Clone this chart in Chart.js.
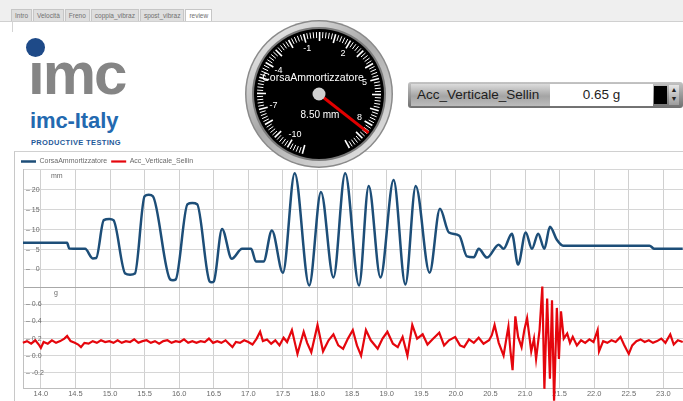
<!DOCTYPE html>
<html>
<head>
<meta charset="utf-8">
<script src="https://cdn.jsdelivr.net/npm/chart.js@4.4.1/dist/chart.umd.min.js"></script>
<style>
  body { margin: 0; width: 683px; height: 401px; overflow: hidden; background: #fff; position: relative; font-family: "Liberation Sans", Arial, sans-serif; }
  #topbar { position: absolute; left: 0; top: 0; width: 683px; height: 21px; background: #efefef; border-bottom: 1px solid #d0d0d0; }
  #tabs { position: absolute; left: 11px; top: 9px; white-space: nowrap; font-size: 0; }
  #tabs span { display: inline-block; height: 11px; line-height: 11px; font-size: 6.5px; color: #707070; padding: 0 3px; margin-right: 1px; border: 1px solid #c6c6c6; border-bottom: none; background: #dedede; }
  #tabs span.on { background: #fff; }
  #sideline { position: absolute; left: 12px; top: 22px; width: 1px; height: 10px; background: #d4d4d4; }
  #dot { position: absolute; left: 26px; top: 38px; width: 19px; height: 19px; border-radius: 50%; background: #1e4a88; }
  #imc { position: absolute; left: 28px; top: 44px; height: 60px; line-height: 60px; font-size: 60px; font-weight: bold; color: #858585; letter-spacing: -2px; }
  #italy { position: absolute; left: 30px; top: 108px; font-size: 22px; line-height: 26px; font-weight: bold; color: #2369b0; letter-spacing: -0.1px; }
  #ptest { position: absolute; left: 31px; top: 138px; font-size: 7.5px; line-height: 9px; font-weight: bold; color: #1f5a9a; letter-spacing: 0.35px; }
  #frame { position: absolute; left: 14px; top: 151px; width: 669px; height: 250px; border-left: 1px solid #c8c8c8; border-top: 1px solid #d0d0d0; }
  #chartBox { position: absolute; left: 0; top: 150px; width: 683px; height: 251px; }
  #gauge { position: absolute; left: 239px; top: 14px; z-index: 3; }
  #disp { position: absolute; left: 408px; top: 82px; width: 271px; height: 22px; padding: 2px; border-radius: 3px; background: linear-gradient(#c4c4c4, #6f6f6f); z-index: 2; }
  #dispLabel { position: absolute; left: 3px; top: 2px; width: 139px; height: 22px; line-height: 22px; font-size: 13.5px; color: #1e1e1e; padding-left: 6px; box-sizing: border-box; background: linear-gradient(#dcdcdc, #a4a4a4 55%, #bcbcbc); }
  #dispValue { position: absolute; left: 142px; top: 2px; width: 103px; height: 22px; line-height: 22px; font-size: 13.5px; color: #1e1e1e; text-align: center; background: #fff; }
  #dispBlack { position: absolute; left: 246px; top: 4px; width: 13px; height: 18px; background: #000; }
  #dispSpin { position: absolute; left: 261px; top: 3px; width: 10px; height: 20px; font-size: 7px; line-height: 9px; color: #222; text-align: center; background: linear-gradient(#e6e6e6, #9c9c9c); }
</style>
</head>
<body>
<div id="topbar"></div>
<div id="tabs"><span>Intro</span><span>Velocità</span><span>Freno</span><span>coppia_vibraz</span><span>spost_vibraz</span><span class="on">review</span></div>
<div id="sideline"></div>

<div id="dot"></div>
<div id="imc">ımc</div>
<div id="italy">imc-Italy</div>
<div id="ptest">PRODUCTIVE TESTING</div>

<div id="frame"></div>
<div id="chartBox"><canvas id="review"></canvas></div>

<canvas id="gauge" width="160" height="160"></canvas>

<div id="disp">
  <div id="dispLabel">Acc_Verticale_Sellin</div>
  <div id="dispValue">0.65 g</div>
  <div id="dispBlack"></div>
  <div id="dispSpin">▲<br>▼</div>
</div>

<script>
// CorsaAmmortizzatore (mm)
const strokeTime = [13.74, 14.38, 14.41, 14.64, 14.75, 14.80, 14.91, 14.99, 15.05, 15.22,
  15.29, 15.36, 15.50, 15.56, 15.62, 15.87, 15.91, 15.95, 16.12, 16.19,
  16.26, 16.44, 16.47, 16.50, 16.62, 16.76, 16.91, 17.04, 17.11, 17.22,
  17.34, 17.50, 17.67, 17.88, 18.05, 18.23, 18.40, 18.60, 18.74, 18.91,
  19.10, 19.27, 19.42, 19.62, 19.77, 19.90, 20.05, 20.16, 20.26, 20.33,
  20.45, 20.62, 20.69, 20.81, 20.90, 21.01, 21.10, 21.19, 21.28, 21.36,
  21.46, 21.55, 22.80, 22.87, 23.28];
const strokeValue = [6.7, 6.7, 5.3, 5.2, 2.8, 2.9, 12.4, 12.7, 12.4, -1.0,
  -1.3, -1.0, 18.4, 18.8, 18.4, -2.5, -2.7, -2.5, 16.4, 16.7,
  16.4, -3.0, -3.2, -3.0, 10.2, 2.7, 5.2, 5.2, 2.0, 2.0,
  9.8, -0.8, 24.2, -4.0, 19.5, -2.0, 24.2, -4.0, 21.0, -2.0,
  22.5, -3.75, 21.0, -0.8, 15.25, 9.3, 8.5, 3.3, 3.1, 5.2,
  3.0, 6.25, 5.2, 9.0, 1.25, 9.3, 5.2, 9.0, 5.2, 10.75,
  7.5, 6.0, 6.0, 5.2, 5.2];

// Acc_Verticale_Sellin (g)
const accTime = [13.74, 13.80, 13.86, 13.92, 13.97, 14.00, 14.04, 14.10, 14.16, 14.22,
  14.28, 14.34, 14.38, 14.43, 14.49, 14.54, 14.58, 14.63, 14.69, 14.75,
  14.81, 14.87, 14.93, 14.99, 15.05, 15.11, 15.17, 15.23, 15.29, 15.35,
  15.41, 15.47, 15.53, 15.59, 15.65, 15.71, 15.77, 15.83, 15.89, 15.95,
  16.01, 16.07, 16.13, 16.19, 16.25, 16.31, 16.37, 16.43, 16.49, 16.55,
  16.61, 16.67, 16.72, 16.77, 16.82, 16.88, 16.94, 17.00, 17.06, 17.12,
  17.17, 17.21, 17.27, 17.33, 17.39, 17.45, 17.51, 17.56, 17.63, 17.71,
  17.80, 17.85, 17.91, 18.00, 18.08, 18.16, 18.23, 18.30, 18.37, 18.44,
  18.51, 18.57, 18.63, 18.70, 18.77, 18.87, 18.94, 19.01, 19.09, 19.16,
  19.23, 19.30, 19.37, 19.44, 19.52, 19.59, 19.66, 19.76, 19.83, 19.90,
  19.99, 20.06, 20.12, 20.19, 20.26, 20.33, 20.40, 20.48, 20.52, 20.56,
  20.62, 20.69, 20.73, 20.76, 20.79, 20.82, 20.86, 20.90, 20.95, 20.99,
  21.03, 21.09, 21.13, 21.16, 21.21, 21.25, 21.28, 21.32, 21.36, 21.39,
  21.42, 21.46, 21.49, 21.52, 21.56, 21.61, 21.65, 21.69, 21.75, 21.81,
  21.87, 21.93, 21.99, 22.05, 22.07, 22.13, 22.19, 22.25, 22.31, 22.38,
  22.43, 22.50, 22.55, 22.61, 22.67, 22.73, 22.79, 22.85, 22.91, 22.97,
  23.03, 23.10, 23.15, 23.21, 23.28];
const accValue = [0.15, 0.17, 0.14, 0.18, 0.13, 0.09, 0.16, 0.14, 0.18, 0.15,
  0.17, 0.20, 0.23, 0.17, 0.15, 0.13, 0.10, 0.15, 0.14, 0.17,
  0.15, 0.18, 0.16, 0.17, 0.15, 0.18, 0.15, 0.17, 0.16, 0.19,
  0.15, 0.17, 0.18, 0.15, 0.17, 0.14, 0.17, 0.18, 0.15, 0.17,
  0.16, 0.19, 0.15, 0.17, 0.15, 0.17, 0.16, 0.20, 0.15, 0.17,
  0.15, 0.18, 0.14, 0.10, 0.16, 0.15, 0.18, 0.16, 0.13, 0.20,
  0.28, 0.17, 0.19, 0.14, 0.18, 0.12, 0.21, 0.16, 0.30, 0.02,
  0.28, 0.15, 0.04, 0.36, 0.05, 0.18, 0.25, 0.12, 0.08, 0.20,
  0.30, 0.12, 0.00, 0.30, 0.18, 0.08, 0.20, 0.28, 0.14, 0.10,
  0.22, 0.00, 0.36, 0.20, 0.25, 0.13, 0.19, 0.27, 0.12, 0.18,
  0.22, 0.12, 0.10, 0.19, 0.15, 0.21, 0.14, 0.18, 0.24, 0.36,
  0.15, 0.00, 0.20, 0.34, 0.05, -0.17, 0.46, 0.22, 0.10, 0.30,
  0.44, 0.05, 0.20, -0.04, 0.30, 0.81, -0.39, 0.67, -0.27, 0.65,
  -0.53, 0.56, -0.04, 0.52, 0.20, 0.26, 0.15, 0.22, 0.12, 0.18,
  0.15, 0.19, 0.16, 0.30, 0.05, 0.17, 0.15, 0.18, 0.16, 0.22,
  0.13, 0.02, 0.12, 0.17, 0.19, 0.16, 0.18, 0.15, 0.17, 0.20,
  0.15, 0.25, 0.13, 0.18, 0.16];

const xTicks = [14.0, 14.5, 15.0, 15.5, 16.0, 16.5, 17.0, 17.5, 18.0, 18.5,
  19.0, 19.5, 20.0, 20.5, 21.0, 21.5, 22.0, 22.5, 23.0];
const strokeTicks = [0, 5, 10, 15, 20, 25];
const accTicks = [-0.2, 0, 0.2, 0.4, 0.6, 0.8];

// gauge readout
const gaugeName = "CorsaAmmortizzatore";
const gaugeValue = 8.5;
const gaugeLabels = [-10, -7, -4, -1, 2, 5, 8];

Chart.defaults.font.family = '"Liberation Sans", Arial, sans-serif';
Chart.defaults.color = "#6a6a6a";

const legendShrink = {
  id: "legendShrink",
  beforeLayout(chart) {
    const lg = chart.legend;
    if (lg && !lg._shrunk) {
      const fit = lg.fit;
      lg.fit = function () { fit.call(this); this.height -= 6; };
      lg._shrunk = true;
    }
  }
};

const unitLabels = {
  id: "unitLabels",
  afterDraw(chart) {
    const { ctx, chartArea, scales } = chart;
    ctx.save();
    ctx.font = '7px "Liberation Sans", Arial, sans-serif';
    ctx.fillStyle = "#6a6a6a";
    ctx.textBaseline = "middle";
    ctx.fillText("mm", chartArea.left + 28, scales.y.top + 7);
    ctx.fillText("g", chartArea.left + 31, scales.y2.top + 6);
    ctx.restore();
  }
};

new Chart(document.getElementById("review"), {
  type: "line",
  data: {
    datasets: [
      {
        label: "CorsaAmmortizzatore",
        data: strokeTime.map((t, i) => ({ x: t, y: strokeValue[i] })),
        borderColor: "#1d4e78",
        backgroundColor: "#1d4e78",
        borderWidth: 2.5,
        pointRadius: 0,
        cubicInterpolationMode: "monotone",
        yAxisID: "y"
      },
      {
        label: "Acc_Verticale_Sellin",
        data: accTime.map((t, i) => ({ x: t, y: accValue[i] })),
        borderColor: "#e5060d",
        backgroundColor: "#e5060d",
        borderWidth: 2.2,
        pointRadius: 0,
        tension: 0,
        clip: false,
        yAxisID: "y2"
      }
    ]
  },
  options: {
    responsive: true,
    maintainAspectRatio: false,
    animation: false,
    layout: { padding: { left: 17, top: 4, right: 0, bottom: 2 } },
    plugins: {
      legend: {
        position: "top",
        align: "start",
        labels: {
          usePointStyle: true,
          pointStyle: "line",
          pointStyleWidth: 15,
          padding: 4,
          color: "#6a6a6a",
          font: { size: 7 }
        }
      },
      tooltip: { enabled: false }
    },
    scales: {
      x: {
        type: "linear",
        min: 13.742,
        max: 23.284,
        afterBuildTicks: (s) => { s.ticks = xTicks.map((v) => ({ value: v })); },
        grid: { color: "#d0d0d0", drawTicks: false },
        border: { color: "#bdbdbd" },
        ticks: { padding: 1, maxRotation: 0, autoSkip: false, font: { size: 7.5 }, callback: (v) => v.toFixed(1) }
      },
      y: {
        type: "linear",
        position: "left",
        stack: "panels",
        stackWeight: 119,
        weight: 2,
        min: -4.5,
        max: 25.25,
        afterBuildTicks: (s) => { s.ticks = strokeTicks.map((v) => ({ value: v })); },
        grid: { color: "#d6d6d6", drawTicks: false },
        border: { color: "#c0c0c0" },
        ticks: {
          mirror: true,
          padding: 3,
          autoSkip: false,
          font: { size: 7 },
          callback: (v) => (v === 25 ? "" : "– " + String(v).padStart(2, "\u2007"))
        }
      },
      y2: {
        type: "linear",
        position: "left",
        stack: "panels",
        stackWeight: 101,
        weight: 1,
        min: -0.38,
        max: 0.8,
        afterBuildTicks: (s) => { s.ticks = accTicks.map((v) => ({ value: v })); },
        grid: {
          color: (c) => (c.tick && c.tick.value === 0.8 ? "#a8a8a8" : "#d6d6d6"),
          drawTicks: false
        },
        border: { color: "#c0c0c0" },
        ticks: {
          mirror: true,
          padding: 3,
          autoSkip: false,
          font: { size: 7 },
          callback: (v) => (v === 0.8 ? "" : "– " + v.toFixed(1))
        }
      }
    }
  },
  plugins: [legendShrink, unitLabels]
});

// round analogue gauge above the chart
function drawGauge() {
  const g = document.getElementById("gauge").getContext("2d");
  const cx = 80, cy = 80;
  const ang = (v) => ((120.6 + (v + 10) * 15) * Math.PI) / 180;

  let ring = g.createLinearGradient(20, 6, 140, 154);
  ring.addColorStop(0, "#f4f4f4");
  ring.addColorStop(0.45, "#a9a9a9");
  ring.addColorStop(1, "#e9e9e9");
  g.beginPath(); g.arc(cx, cy, 74, 0, Math.PI * 2); g.fillStyle = "#8a8a8a"; g.fill();
  g.beginPath(); g.arc(cx, cy, 72.5, 0, Math.PI * 2); g.fillStyle = ring; g.fill();
  g.beginPath(); g.arc(cx, cy, 67, 0, Math.PI * 2); g.fillStyle = "#7a7a7a"; g.fill();
  g.beginPath(); g.arc(cx, cy, 65, 0, Math.PI * 2); g.fillStyle = "#000"; g.fill();

  g.strokeStyle = "#fff";
  for (let k = -55; k <= 50; k++) {
    const v = k / 5;
    const a = ang(v);
    const major = k % 5 === 0;
    const r0 = major ? 53 : 56, r1 = 62;
    g.lineWidth = major ? 1.6 : 1;
    g.beginPath();
    g.moveTo(cx + r0 * Math.cos(a), cy + r0 * Math.sin(a));
    g.lineTo(cx + r1 * Math.cos(a), cy + r1 * Math.sin(a));
    g.stroke();
  }

  g.fillStyle = "#fff";
  g.font = '9px "Liberation Sans", Arial, sans-serif';
  g.textAlign = "center";
  g.textBaseline = "middle";
  gaugeLabels.forEach((v) => {
    const a = ang(v);
    g.fillText(String(v), cx + 47 * Math.cos(a), cy + 47 * Math.sin(a));
  });

  g.font = '10.5px "Liberation Sans", Arial, sans-serif';
  g.fillText(gaugeName, cx - 6, cy - 16);
  g.font = '10px "Liberation Sans", Arial, sans-serif';
  g.fillText(gaugeValue.toFixed(2) + " mm", cx + 1, cy + 21);

  const a = ang(gaugeValue);
  g.strokeStyle = "#e00000";
  g.lineWidth = 3;
  g.beginPath();
  g.moveTo(cx, cy);
  g.lineTo(cx + 63 * Math.cos(a), cy + 63 * Math.sin(a));
  g.stroke();

  g.beginPath(); g.arc(cx, cy, 6.5, 0, Math.PI * 2); g.fillStyle = "#cfcfcf"; g.fill();
}
drawGauge();
</script>
</body>
</html>
